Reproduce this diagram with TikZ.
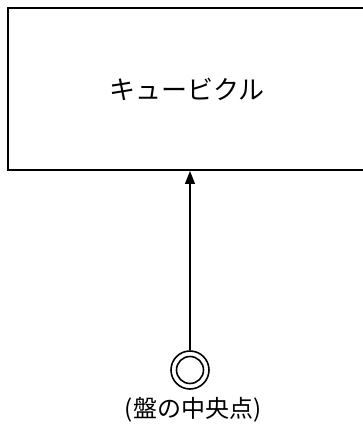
\documentclass[tikz,border=0pt]{standalone}
\usepackage{fontspec}
\setmainfont{Noto Sans CJK JP}
\usepackage{tikz}
\usetikzlibrary{arrows.meta, positioning}

\begin{document}
\begin{tikzpicture}[
  x=1pt, y=-1pt,
  every node/.style={font=\fontsize{26}{30}\selectfont, align=center},
  panel/.style ={rectangle, draw, line width=2pt, minimum width=358pt, minimum height=162pt, inner sep=0pt},
  ring/.style  ={circle, draw, line width=1.6pt, inner sep=0pt},
  -{Triangle[length=13pt, width=10pt]}, line width=1.3pt
]
\useasboundingbox (0,0) rectangle (363,438);

%% Cubicle (right edge runs off the page)
\node[panel] (cubicle) at (187,89) {キュービクル};

%% Centre point of the panel
\node[ring, minimum size=38pt] (ctr) at (190,370) {};
\node[ring, minimum size=27pt] (ctrin) at (ctr) {};
\node[below=4pt of ctr, xshift=3pt, font=\fontsize{24}{28}\selectfont] (lbl) {(盤の中央点)};

%% Arrow up to the cubicle
\draw (ctr.north) -- (ctr.north |- cubicle.south);

\end{tikzpicture}
\end{document}
